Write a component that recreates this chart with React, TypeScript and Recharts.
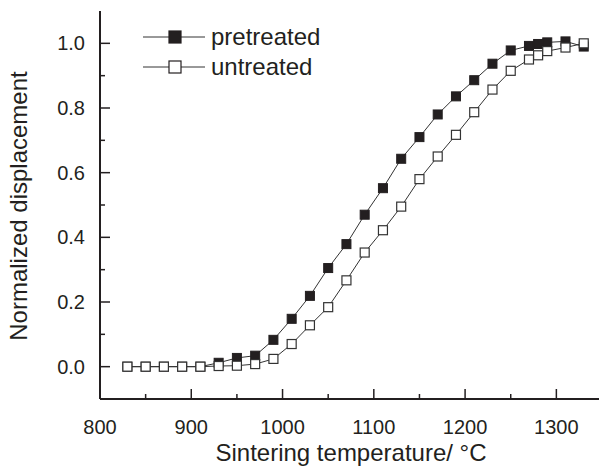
import { LineChart, Line, XAxis, YAxis, Legend } from 'recharts'

const temperatures = [
  830, 850, 870, 890, 910, 930, 950, 970, 990, 1010, 1030, 1050, 1070, 1090,
  1110, 1130, 1150, 1170, 1190, 1210, 1230, 1250, 1270, 1280, 1290, 1310, 1330,
]

const pretreated = [
  0, 0, 0, 0, 0, 0.012, 0.027, 0.034, 0.083, 0.148, 0.219, 0.305, 0.379, 0.47,
  0.552, 0.643, 0.71, 0.78, 0.836, 0.886, 0.937, 0.978, 0.992, 0.998, 1.003, 1.006, 0.99,
]

const untreated = [
  0, 0, 0, 0, 0, 0.002, 0.003, 0.008, 0.024, 0.07, 0.128, 0.184, 0.267, 0.353,
  0.422, 0.495, 0.58, 0.65, 0.717, 0.787, 0.857, 0.915, 0.95, 0.963, 0.976, 0.987, 1.0,
]

const xTicks = [800, 850, 900, 950, 1000, 1050, 1100, 1150, 1200, 1250, 1300]
const yTicks = [0, 0.1, 0.2, 0.3, 0.4, 0.5, 0.6, 0.7, 0.8, 0.9, 1.0]

const data = temperatures.map((t, i) => ({
  temp: t,
  pretreated: pretreated[i],
  untreated: untreated[i],
}))

const INK = '#231f20'
const FONT = '"Liberation Sans", Arial, Helvetica, sans-serif'

function BottomTick({ x, y, payload }: any) {
  const major = payload.value % 100 === 0
  return (
    <g>
      <line x1={x} x2={x} y1={y} y2={y - (major ? 10 : 5)} stroke={INK} strokeWidth={1.5} />
      {major && (
        <text x={x} y={y + 35} textAnchor="middle" fontSize={20} fill={INK} fontFamily={FONT}>
          {payload.value}
        </text>
      )}
    </g>
  )
}

function TopTick({ x, y }: any) {
  return <line x1={x} x2={x} y1={y} y2={y + 2} stroke={INK} strokeWidth={1.2} />
}

function LeftTick({ x, y, payload }: any) {
  const v = payload.value
  const major = Math.round(v * 10) % 2 === 0
  return (
    <g>
      <line x1={x} x2={x + (major ? 10 : 5)} y1={y} y2={y} stroke={INK} strokeWidth={1.5} />
      {major && (
        <text x={x - 15} y={y + 7} textAnchor="end" fontSize={20} fill={INK} fontFamily={FONT}>
          {v.toFixed(1)}
        </text>
      )}
    </g>
  )
}

function FilledSquare({ cx, cy }: any) {
  if (cx == null || cy == null) return null
  return <rect x={cx - 4.5} y={cy - 4.5} width={9} height={9} fill={INK} stroke={INK} strokeWidth={1} />
}

function OpenSquare({ cx, cy }: any) {
  if (cx == null || cy == null) return null
  return <rect x={cx - 4.5} y={cy - 4.5} width={9} height={9} fill="#fff" stroke="#333" strokeWidth={1.2} />
}

function LegendBox() {
  const rows = [
    { label: 'pretreated', fill: INK },
    { label: 'untreated', fill: '#fff' },
  ]
  return (
    <div>
      {rows.map((r) => (
        <div key={r.label} style={{ display: 'flex', alignItems: 'center', height: 30 }}>
          <svg width={66} height={16}>
            <line x1={0} x2={62} y1={8} y2={8} stroke="#333" strokeWidth={1} />
            <rect x={26} y={2} width={12} height={12} fill={r.fill} stroke={INK} strokeWidth={1.2} />
          </svg>
          <span style={{ fontSize: 24, color: INK, fontFamily: FONT, marginLeft: 2 }}>{r.label}</span>
        </div>
      ))}
    </div>
  )
}

export default function App() {
  return (
    <div
      style={{
        position: 'absolute',
        left: 0,
        top: 0,
        width: 599,
        height: 468,
        overflow: 'hidden',
        background: '#fff',
      }}
    >
      <LineChart width={605} height={468} data={data} margin={{ top: 11, right: 3, left: 0, bottom: 0 }}>
        <XAxis
          dataKey="temp"
          type="number"
          domain={[800, 1350]}
          ticks={xTicks}
          interval={0}
          tickSize={0}
          tickMargin={0}
          tickLine={false}
          tick={<BottomTick />}
          height={69}
          axisLine={{ stroke: INK, strokeWidth: 2 }}
          allowDataOverflow
          label={{
            content: ({ viewBox }: any) => (
              <text
                x={viewBox.x + viewBox.width / 2}
                y={viewBox.y + 62}
                textAnchor="middle"
                fontSize={24}
                fill={INK}
                fontFamily={FONT}
              >
                Sintering temperature/ °C
              </text>
            ),
          }}
        />
        <XAxis
          xAxisId="top"
          orientation="top"
          dataKey="temp"
          type="number"
          domain={[800, 1350]}
          ticks={xTicks}
          interval={0}
          tickSize={0}
          tickMargin={0}
          tickLine={false}
          tick={<TopTick />}
          height={0}
          axisLine={{ stroke: INK, strokeWidth: 2 }}
          allowDataOverflow
        />
        <YAxis
          type="number"
          domain={[-0.1, 1.1]}
          ticks={yTicks}
          interval={0}
          tickSize={0}
          tickMargin={0}
          tickLine={false}
          tick={<LeftTick />}
          width={100}
          axisLine={{ stroke: INK, strokeWidth: 2 }}
          allowDataOverflow
          label={{
            content: ({ viewBox }: any) => {
              const cy = viewBox.y + viewBox.height / 2 + 1
              return (
                <text
                  x={27}
                  y={cy}
                  transform={`rotate(-90 27 ${cy})`}
                  textAnchor="middle"
                  fontSize={24}
                  fill={INK}
                  fontFamily={FONT}
                >
                  Normalized displacement
                </text>
              )
            },
          }}
        />
        <Legend
          layout="horizontal"
          align="center"
          verticalAlign="middle"
          content={<LegendBox />}
          wrapperStyle={{ left: 143, top: 22, width: 'auto' }}
        />
        <Line
          dataKey="pretreated"
          stroke="#333"
          strokeWidth={1}
          dot={<FilledSquare />}
          activeDot={false}
          isAnimationActive={false}
        />
        <Line
          dataKey="untreated"
          stroke="#333"
          strokeWidth={1}
          dot={<OpenSquare />}
          activeDot={false}
          isAnimationActive={false}
        />
      </LineChart>
    </div>
  )
}
